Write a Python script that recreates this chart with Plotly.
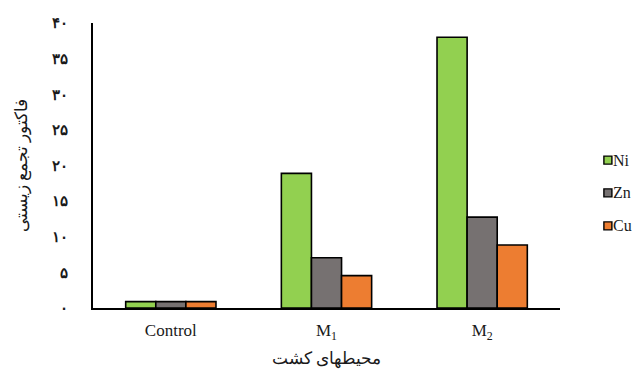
import plotly.graph_objects as go

# Culture media and bioaccumulation factor per metal
categories = ["Control", "M<sub>1</sub>", "M<sub>2</sub>"]
metals = ["Ni", "Zn", "Cu"]
ni_values = [0.9, 18.9, 38.0]
zn_values = [0.9, 7.05, 12.75]
cu_values = [0.9, 4.55, 8.85]
metal_colors = ["#92D050", "#767171", "#ED7D31"]

y_tick_values = [0, 5, 10, 15, 20, 25, 30, 35, 40]
y_tick_labels = ["۰", "۵", "۱۰", "۱۵", "۲۰", "۲۵", "۳۰", "۳۵", "۴۰"]

series = [ni_values, zn_values, cu_values]
serif = "Liberation Serif"
ink = "#1a1a1a"

fig = go.Figure()
for name, vals, color in zip(metals, series, metal_colors):
    fig.add_trace(go.Bar(
        x=categories, y=vals, name=name,
        marker=dict(color=color, line=dict(color="black", width=1.6)),
        showlegend=False,
    ))

# Compact legend: outlined swatch followed by the metal name
legend_y = [0.519, 0.404, 0.288]
for name, color, ly in zip(metals, metal_colors, legend_y):
    fig.add_shape(
        type="rect", xref="paper", yref="paper",
        xsizemode="pixel", ysizemode="pixel",
        xanchor=1.094, yanchor=ly,
        x0=0, x1=8, y0=-4, y1=4,
        fillcolor=color, line=dict(color="black", width=1.4),
    )
    fig.add_annotation(
        text=name, xref="paper", yref="paper",
        x=1.109, y=ly, xanchor="left", yanchor="middle",
        showarrow=False, font=dict(family=serif, size=16, color=ink),
    )

fig.update_layout(
    width=638, height=372,
    margin=dict(l=93, r=78, t=23, b=64),
    paper_bgcolor="white", plot_bgcolor="white",
    barmode="group", bargap=0.42, bargroupgap=0,
    font=dict(family=serif, size=16, color=ink),
)
fig.update_xaxes(
    showline=True, linecolor="black", linewidth=2,
    showgrid=False, ticks="", ticklabelstandoff=6, automargin=False,
    tickfont=dict(family=serif, size=17, color=ink),
    title=dict(text="محیطهای کشت", standoff=10,
               font=dict(family=serif, size=17, color=ink)),
)
fig.update_yaxes(
    range=[0, 40], tickvals=y_tick_values, ticktext=y_tick_labels,
    showline=True, linecolor="black", linewidth=2,
    showgrid=False, zeroline=False, ticks="", ticklabelstandoff=20,
    automargin=False,
    tickfont=dict(family=serif, size=15, color=ink, weight="bold"),
    title=dict(text="فاکتور تجمع زیستی", standoff=20,
               font=dict(family=serif, size=17, color=ink)),
)

fig.write_html("out.html")
